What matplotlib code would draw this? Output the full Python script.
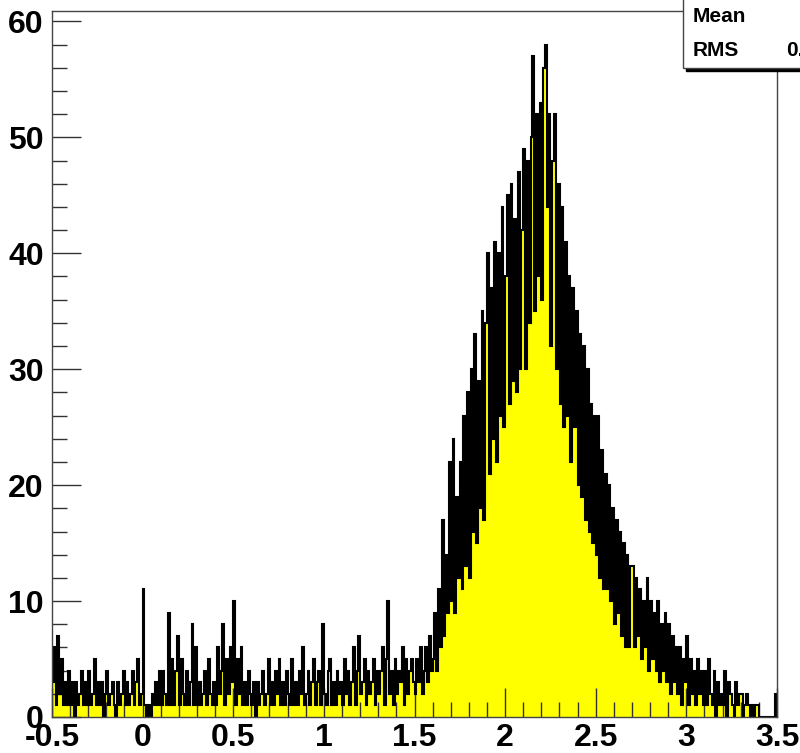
import numpy as np
import matplotlib.pyplot as plt

# histogram binning: 400 bins from -0.5 to 3.5
x_min, x_max, n_bins = -0.5, 3.5, 400

# bin contents, one row per 0.2 interval in x
counts = [
    3, 6, 1, 7, 2, 5, 1, 3, 1, 4, 1, 3, 0, 3, 1, 2, 4, 1, 3, 1,
    4, 1, 2, 5, 1, 3, 1, 3, 0, 2, 4, 1, 2, 3, 1, 0, 3, 1, 2, 4,
    1, 3, 1, 2, 4, 1, 3, 5, 1, 2, 11, 1, 0, 1, 0, 2, 1, 3, 1, 4,
    1, 4, 2, 1, 9, 1, 5, 1, 4, 7, 1, 5, 2, 1, 4, 1, 3, 8, 1, 6,
    1, 3, 1, 2, 4, 1, 5, 2, 1, 3, 1, 6, 2, 4, 8, 1, 5, 2, 6, 3,
    10, 1, 5, 2, 6, 1, 3, 1, 4, 2, 1, 3, 0, 3, 1, 2, 4, 1, 2, 5,
    1, 3, 1, 4, 2, 5, 1, 3, 1, 4, 2, 1, 5, 1, 3, 1, 4, 2, 6, 1,
    2, 4, 1, 3, 5, 1, 3, 4, 1, 8, 2, 1, 4, 5, 1, 3, 1, 4, 2, 3,
    1, 5, 2, 4, 1, 3, 6, 1, 4, 7, 2, 3, 5, 1, 4, 2, 3, 5, 1, 4,
    2, 4, 6, 1, 5, 10, 2, 4, 1, 5, 2, 4, 3, 6, 1, 5, 2, 4, 5, 3,
    2, 5, 3, 6, 2, 4, 6, 3, 7, 4, 5, 9, 4, 11, 6, 17, 7, 14, 9, 22,
    10, 24, 9, 19, 12, 22, 11, 26, 13, 28, 12, 30, 16, 33, 15, 29, 18, 35, 17, 34,
    40, 21, 37, 24, 41, 22, 40, 26, 44, 25, 38, 45, 27, 46, 29, 43, 28, 47, 30, 42,
    49, 30, 48, 34, 50, 57, 35, 52, 38, 53, 36, 56, 58, 44, 52, 32, 48, 52, 30, 46,
    27, 44, 25, 41, 26, 38, 22, 37, 25, 35, 20, 33, 19, 32, 17, 30, 16, 27, 15, 26,
    14, 26, 12, 23, 11, 21, 11, 20, 10, 18, 8, 17, 9, 16, 7, 15, 6, 14, 6, 13,
    13, 6, 12, 7, 11, 5, 10, 6, 12, 4, 10, 5, 9, 4, 10, 3, 8, 4, 9, 3,
    8, 2, 7, 3, 6, 2, 6, 1, 5, 3, 7, 1, 5, 2, 4, 1, 5, 2, 4, 1,
    4, 1, 5, 2, 1, 4, 0, 3, 1, 2, 1, 4, 0, 3, 2, 1, 0, 3, 1, 2,
    2, 0, 1, 2, 1, 0, 1, 0, 1, 1, 0, 0, 0, 0, 0, 0, 0, 0, 0, 2,
]

x_ticks = [-0.5, 0, 0.5, 1, 1.5, 2, 2.5, 3, 3.5]
x_tick_labels = ["-0.5", "0", "0.5", "1", "1.5", "2", "2.5", "3", "3.5"]
y_ticks = [0, 10, 20, 30, 40, 50, 60]

counts = np.array(counts, dtype=float)
edges = np.linspace(x_min, x_max, n_bins + 1)
centers = 0.5 * (edges[:-1] + edges[1:])

# stats like ROOT's stat box
mean = np.sum(counts * centers) / np.sum(counts)
rms = np.sqrt(np.sum(counts * (centers - mean) ** 2) / np.sum(counts))

plt.rcParams['font.family'] = ['Liberation Sans', 'DejaVu Sans']
plt.rcParams['font.weight'] = 'bold'

fig = plt.figure(figsize=(8.0, 7.53), dpi=100)
ax = fig.add_axes([52 / 800, 1 - 717 / 753, 725 / 800, 706 / 753])

# filled histogram with black outline (thick so the narrow bins merge)
ax.stairs(counts, edges, fill=True, color='#ffff00', zorder=1)
ax.stairs(counts, edges, color='black', lw=1.5, zorder=2)

ax.set_xlim(x_min, x_max)
ax.set_ylim(0, counts.max() * 1.05)

ax.set_xticks(x_ticks)
ax.set_xticklabels(x_tick_labels)
ax.set_xticks(np.arange(-0.5, 3.51, 0.1), minor=True)
ax.set_yticks(y_ticks)
ax.set_yticks(np.arange(0, 61, 2), minor=True)

ax.tick_params(axis='both', which='major', direction='in', length=21,
               width=1, labelsize=23, color='#333333')
ax.tick_params(axis='both', which='minor', direction='in', length=11,
               width=1, color='#333333')
ax.tick_params(axis='x', which='major', pad=4)
ax.tick_params(axis='y', which='major', pad=6)
ax.tick_params(top=False, right=False, which='both')

for s in ax.spines.values():
    s.set_color('#444444')
    s.set_linewidth(1.0)
    s.set_zorder(3)

# stat box in the top right corner (partially outside the canvas)
box_l, box_b = 683 / 800, 1 - 68 / 753
fig.patches.append(plt.Rectangle((box_l + 3 / 800, box_b - 3 / 753), 0.2, 0.2,
                                 transform=fig.transFigure, color='black',
                                 zorder=5))
fig.patches.append(plt.Rectangle((box_l, box_b), 0.2, 0.2,
                                 transform=fig.transFigure, facecolor='white',
                                 edgecolor='#444444', lw=1.0, zorder=6))
fig.text(693 / 800, 1 - 16 / 753, "Mean", fontsize=15, va='center',
         ha='left', zorder=7)
fig.text(693 / 800, 1 - 51 / 753, "RMS", fontsize=15, va='center',
         ha='left', zorder=7)
fig.text(786 / 800, 1 - 51 / 753, "%.4f" % rms, fontsize=15, va='center',
         ha='left', zorder=7)
fig.text(802 / 800, 1 - 16 / 753, "%.3f" % mean, fontsize=15, va='center',
         ha='left', zorder=7)

fig.savefig("out.png", dpi=100)
